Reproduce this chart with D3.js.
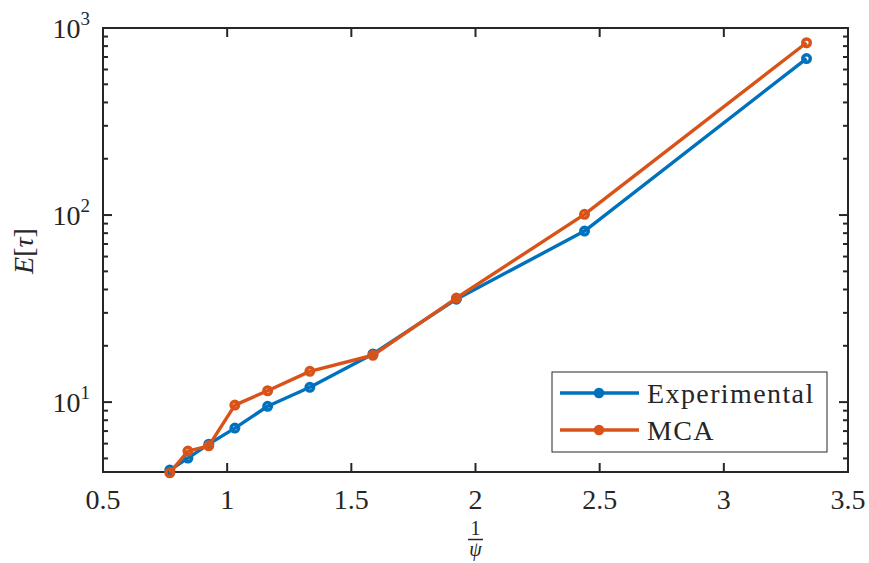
<html>
<head>
<script src="https://d3js.org/d3.v7.min.js"></script>
<style>
  body { margin: 0; background: #fff; }
  svg { font-family: 'Liberation Serif', 'Times New Roman', 'DejaVu Serif', serif; }
</style>
</head>
<body>
<div id="chart"></div>
<script>
// 1/psi values and expected hitting times
var invPsi = [0.769, 0.842, 0.926, 1.031, 1.163, 1.333, 1.587, 1.923, 2.439, 3.333];
var experimental = [4.33, 5.02, 5.96, 7.26, 9.5, 12.0, 18.1, 35.5, 82.1, 686];
var mca = [4.19, 5.47, 5.84, 9.64, 11.5, 14.6, 17.8, 36.0, 100.9, 834];
var xTicks = [0.5, 1, 1.5, 2, 2.5, 3, 3.5];
var yDecades = [1, 2, 3];
var seriesNames = ["Experimental", "MCA"];
var colors = ["#0072BD", "#D95319"];

var W = 869, H = 563;
var m = {left: 103, right: 21, top: 28, bottom: 91};
var iw = W - m.left - m.right, ih = H - m.top - m.bottom;
var axisColor = "#262626";

var svg = d3.select("#chart").append("svg").attr("width", W).attr("height", H);
var g = svg.append("g").attr("transform", "translate(" + m.left + "," + m.top + ")");

var x = d3.scaleLinear().domain([0.5, 3.5]).range([0, iw]);
var y = d3.scaleLog().domain([4.23, 1000]).range([ih, 0]);

// minor ticks for the log axis
var minor = [];
[1, 10, 100].forEach(function(b) {
  for (var k = 2; k <= 9; k++) {
    var v = b * k;
    if (v >= y.domain()[0] && v <= y.domain()[1]) minor.push(v);
  }
});
var major = yDecades.map(function(d) { return Math.pow(10, d); });

var ticks = g.append("g").attr("stroke", axisColor).attr("stroke-width", 2);

// x ticks bottom and top
xTicks.forEach(function(t) {
  ticks.append("line").attr("x1", x(t)).attr("x2", x(t)).attr("y1", ih).attr("y2", ih - 9);
  ticks.append("line").attr("x1", x(t)).attr("x2", x(t)).attr("y1", 0).attr("y2", 9);
});
// y ticks left and right
major.forEach(function(t) {
  ticks.append("line").attr("x1", 0).attr("x2", 9).attr("y1", y(t)).attr("y2", y(t));
  ticks.append("line").attr("x1", iw).attr("x2", iw - 9).attr("y1", y(t)).attr("y2", y(t));
});
minor.forEach(function(t) {
  ticks.append("line").attr("x1", 0).attr("x2", 5).attr("y1", y(t)).attr("y2", y(t));
  ticks.append("line").attr("x1", iw).attr("x2", iw - 5).attr("y1", y(t)).attr("y2", y(t));
});

g.append("rect").attr("width", iw).attr("height", ih)
  .attr("fill", "none").attr("stroke", axisColor).attr("stroke-width", 2);

// tick labels
g.selectAll(".xl").data(xTicks).enter().append("text")
  .attr("x", function(d) { return x(d); })
  .attr("y", ih + 37)
  .attr("text-anchor", "middle")
  .attr("font-size", 28)
  .attr("fill", axisColor)
  .text(function(d) { return d; });

var yl = g.selectAll(".yl").data(yDecades).enter().append("text")
  .attr("x", -13)
  .attr("y", function(d) { return y(Math.pow(10, d)) + 10; })
  .attr("text-anchor", "end")
  .attr("font-size", 28)
  .attr("fill", axisColor);
yl.append("tspan").text("10");
yl.append("tspan").attr("dy", -13).attr("font-size", 19).text(function(d) { return d; });

// axis titles
var yt = svg.append("text")
  .attr("transform", "translate(33," + 251 + ") rotate(-90)")
  .attr("text-anchor", "middle").attr("font-size", 28).attr("fill", axisColor);
yt.append("tspan").attr("font-style", "italic").text("E");
yt.append("tspan").text("[");
yt.append("tspan").attr("font-style", "italic").text("τ");
yt.append("tspan").text("]");

var xc = m.left + x(2);
svg.append("text").attr("x", xc).attr("y", 535).attr("text-anchor", "middle")
  .attr("font-size", 20).attr("fill", axisColor).text("1");
svg.append("line").attr("x1", xc - 7.5).attr("x2", xc + 7.5).attr("y1", 539.5).attr("y2", 539.5)
  .attr("stroke", axisColor).attr("stroke-width", 1.5);
svg.append("text").attr("x", xc).attr("y", 556).attr("text-anchor", "middle")
  .attr("font-size", 20).attr("font-style", "italic").attr("fill", axisColor).text("ψ");

// series
var line = d3.line().x(function(d) { return x(d[0]); }).y(function(d) { return y(d[1]); });
[experimental, mca].forEach(function(vals, i) {
  var pts = invPsi.map(function(v, j) { return [v, vals[j]]; });
  g.append("path").datum(pts).attr("d", line)
    .attr("fill", "none").attr("stroke", colors[i]).attr("stroke-width", 3.4)
    .attr("stroke-linejoin", "round");
  g.selectAll(".p" + i).data(pts).enter().append("circle")
    .attr("cx", function(d) { return x(d[0]); })
    .attr("cy", function(d) { return y(d[1]); })
    .attr("r", 3.8)
    .attr("fill", "none").attr("stroke", colors[i]).attr("stroke-width", 3.4);
});

// legend
var lg = svg.append("g").attr("transform", "translate(552,372)");
lg.append("rect").attr("width", 275).attr("height", 80)
  .attr("fill", "#fff").attr("stroke", axisColor).attr("stroke-width", 1);
seriesNames.forEach(function(name, i) {
  var ly = 21 + i * 37;
  lg.append("line").attr("x1", 8).attr("x2", 87).attr("y1", ly).attr("y2", ly)
    .attr("stroke", colors[i]).attr("stroke-width", 3.4);
  lg.append("circle").attr("cx", 47).attr("cy", ly).attr("r", 3.8)
    .attr("fill", colors[i]).attr("stroke", colors[i]).attr("stroke-width", 3);
  lg.append("text").attr("x", 95).attr("y", ly + 10).attr("font-size", 28)
    .attr("letter-spacing", 1.4).attr("fill", axisColor).text(name);
});
</script>
</body>
</html>
